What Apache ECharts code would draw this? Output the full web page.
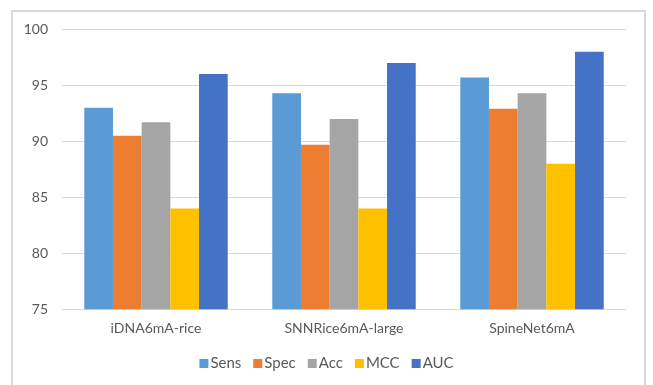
<!DOCTYPE html>
<html>
<head>
<meta charset="utf-8">
<script src="https://cdn.jsdelivr.net/npm/echarts@6/dist/echarts.min.js"></script>
<style>
  html, body { margin: 0; padding: 0; background: #fff; }
  #chart { width: 653px; height: 385px; }
</style>
</head>
<body>
<div id="chart"></div>
<script>
// 数据
const categories = ['iDNA6mA-rice', 'SNNRice6mA-large', 'SpineNet6mA']
const sens = [93.0, 94.3, 95.7]
const spec = [90.5, 89.7, 92.9]
const acc = [91.7, 92.0, 94.3]
const mcc = [84.0, 84.0, 88.0]
const auc = [96.0, 97.0, 98.0]
const seriesNames = ['Sens', 'Spec', 'Acc', 'MCC', 'AUC']
const colors = ['#5B9BD5', '#ED7D31', '#A5A5A5', '#FFC000', '#4472C4']

const myChart = echarts.init(document.getElementById('chart'))
const font = 'Lato, "Liberation Sans", sans-serif'

const option = {
  animation: false,
  color: colors,
  graphic: [{
    type: 'rect',
    shape: { x: 12, y: 11, width: 633, height: 390 },
    style: { fill: 'none', stroke: '#D9D9D9', lineWidth: 2 },
    silent: true
  }],
  grid: {
    left: 62,
    right: 27,
    top: 29.3,
    bottom: 75.7
  },
  legend: {
    bottom: 9,
    left: 'center',
    itemWidth: 9,
    itemHeight: 9,
    itemGap: 12,
    icon: 'rect',
    textStyle: { color: '#595959', fontSize: 15, fontFamily: font, padding: [0, 0, 0, -3] },
    data: seriesNames
  },
  xAxis: {
    type: 'category',
    data: categories,
    axisLine: { lineStyle: { color: '#D9D9D9' } },
    axisTick: { show: false },
    axisLabel: { color: '#595959', fontSize: 14, fontFamily: font, margin: 12 }
  },
  yAxis: {
    type: 'value',
    min: 75,
    max: 100,
    interval: 5,
    axisLine: { show: false },
    axisTick: { show: false },
    axisLabel: { color: '#595959', fontSize: 14, fontFamily: font, margin: 14 },
    splitLine: { lineStyle: { color: '#D9D9D9' } }
  },
  series: [sens, spec, acc, mcc, auc].map((d, i) => ({
    name: seriesNames[i],
    type: 'bar',
    data: d,
    barGap: '0%',
    barCategoryGap: '23.7%'
  }))
}

myChart.setOption(option)
</script>
</body>
</html>
